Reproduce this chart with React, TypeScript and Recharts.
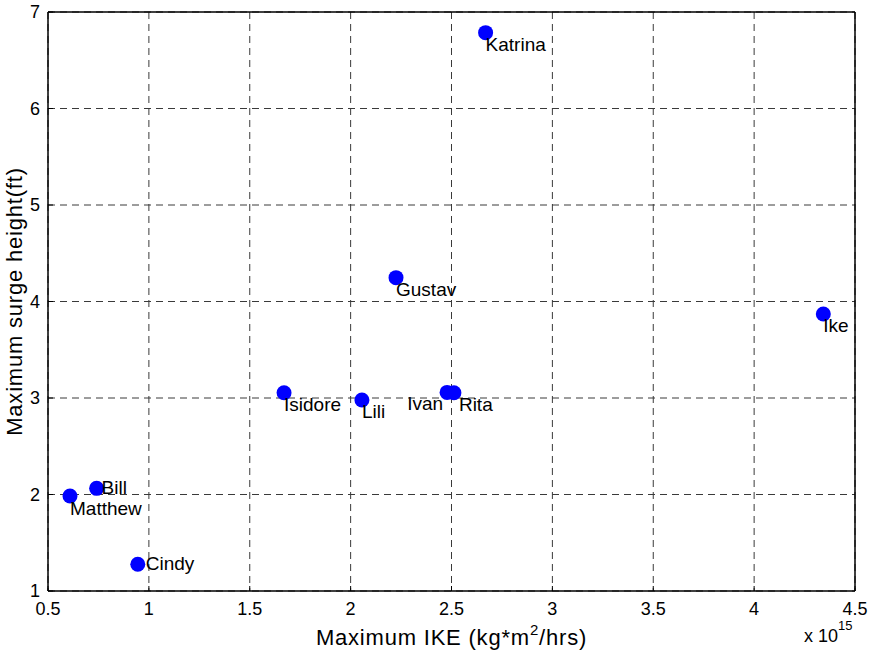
import { ScatterChart, Scatter, XAxis, YAxis, CartesianGrid } from "recharts";

// Hurricanes: peak integrated kinetic energy (in units of 10^15) vs peak surge height
const storms = ["Katrina", "Gustav", "Ike", "Isidore", "Lili", "Ivan", "Rita", "Bill", "Matthew", "Cindy"];
const ikeE15 = [2.669, 2.225, 4.343, 1.67, 2.056, 2.478, 2.512, 0.741, 0.609, 0.945];
const surgeFt = [6.786, 4.247, 3.87, 3.055, 2.98, 3.058, 3.055, 2.064, 1.984, 1.277];

const xTicks = [0.5, 1, 1.5, 2, 2.5, 3, 3.5, 4, 4.5];
const yTicks = [1, 2, 3, 4, 5, 6, 7];

const points = storms.map((name, i) => ({ name, ike: ikeE15[i], surge: surgeFt[i] }));

const FONT = '"Liberation Sans", Arial, Helvetica, sans-serif';
const TICK_IN = 5;

// where each storm's name sits relative to its dot
const labelPlacement: Record<string, { dx: number; dy: number; anchor?: "start" | "end" }> = {
  Bill: { dx: 5, dy: 6 },
  Cindy: { dx: 8, dy: 6 },
  Ivan: { dx: -4, dy: 18, anchor: "end" },
  Rita: { dx: 5, dy: 18 },
  Matthew: { dx: 0, dy: 19 },
};

// eslint-disable-next-line @typescript-eslint/no-explicit-any
const StormDot = (props: any) => {
  const { cx, cy, payload } = props;
  const p = labelPlacement[payload.name] ?? { dx: 0, dy: 18 };
  return (
    <g>
      <circle cx={cx} cy={cy} r={7.5} fill="#0000ff" />
      <text
        x={cx + p.dx}
        y={cy + p.dy}
        textAnchor={p.anchor ?? "start"}
        fontFamily={FONT}
        fontSize={19}
        fill="#000"
      >
        {payload.name}
      </text>
    </g>
  );
};

// eslint-disable-next-line @typescript-eslint/no-explicit-any
const BottomTick = (props: any) => {
  const { x, y, payload } = props;
  const axisY = y - 11;
  return (
    <g>
      <line x1={x} y1={axisY} x2={x} y2={axisY - TICK_IN} stroke="#000" />
      <text x={x} y={y} dy="0.71em" textAnchor="middle" fontFamily={FONT} fontSize={18} fill="#000">
        {payload.value}
      </text>
    </g>
  );
};

// eslint-disable-next-line @typescript-eslint/no-explicit-any
const LeftTick = (props: any) => {
  const { x, y, payload } = props;
  const axisX = x + 8;
  return (
    <g>
      <line x1={axisX} y1={y} x2={axisX + TICK_IN} y2={y} stroke="#000" />
      <text x={x} y={y} dy="0.36em" textAnchor="end" fontFamily={FONT} fontSize={18} fill="#000">
        {payload.value}
      </text>
    </g>
  );
};

// eslint-disable-next-line @typescript-eslint/no-explicit-any
const TopTick = (props: any) => <line x1={props.x} y1={props.y} x2={props.x} y2={props.y + TICK_IN} stroke="#000" />;

// eslint-disable-next-line @typescript-eslint/no-explicit-any
const RightTick = (props: any) => <line x1={props.x} y1={props.y} x2={props.x - TICK_IN} y2={props.y} stroke="#000" />;

// eslint-disable-next-line @typescript-eslint/no-explicit-any
const XTitle = (props: any) => {
  const { x, y, width } = props.viewBox;
  return (
    <g fontFamily={FONT} fill="#000">
      <text x={x + width / 2} y={y + 54} textAnchor="middle" fontSize={22} letterSpacing={0.8}>
        Maximum IKE (kg*m
        <tspan fontSize={15} dy={-10}>2</tspan>
        <tspan dy={10}>/hrs)</tspan>
      </text>
      <text x={x + width - 51} y={y + 51} fontSize={18}>
        x 10
        <tspan fontSize={13} dy={-12}>15</tspan>
      </text>
    </g>
  );
};

// eslint-disable-next-line @typescript-eslint/no-explicit-any
const YTitle = (props: any) => {
  const { x, y, height } = props.viewBox;
  const cx = x + 22;
  const cy = y + height / 2;
  return (
    <text
      x={cx}
      y={cy}
      transform={`rotate(-90 ${cx} ${cy})`}
      textAnchor="middle"
      fontFamily={FONT}
      fontSize={22}
      letterSpacing={0.8}
      fill="#000"
    >
      Maximum surge height(ft)
    </text>
  );
};

export default function App() {
  return (
    <div style={{ position: "absolute", left: 0, top: 0, width: 872, height: 652, background: "#fff" }}>
      <ScatterChart width={872} height={652} margin={{ top: 11, right: 16, bottom: 0, left: 0 }}>
        <CartesianGrid stroke="#3a3a3a" strokeDasharray="7 5" />
        <XAxis
          type="number"
          dataKey="ike"
          domain={[0.5, 4.5]}
          ticks={xTicks}
          height={61}
          tickSize={0}
          tickMargin={11}
          axisLine={{ stroke: "#000", strokeWidth: 1.5 }}
          tickLine={false}
          tick={BottomTick}
          interval={0}
          label={{ content: XTitle }}
        />
        <XAxis
          xAxisId="top"
          orientation="top"
          type="number"
          dataKey="ike"
          domain={[0.5, 4.5]}
          ticks={xTicks}
          height={1}
          tickSize={0}
          tickMargin={0}
          axisLine={{ stroke: "#000", strokeWidth: 1.5 }}
          tickLine={false}
          tick={TopTick}
          interval={0}
        />
        <YAxis
          type="number"
          dataKey="surge"
          domain={[1, 7]}
          ticks={yTicks}
          width={48}
          tickSize={0}
          tickMargin={8}
          axisLine={{ stroke: "#000", strokeWidth: 1.5 }}
          tickLine={false}
          tick={LeftTick}
          interval={0}
          label={{ content: YTitle }}
        />
        <YAxis
          yAxisId="right"
          orientation="right"
          type="number"
          dataKey="surge"
          domain={[1, 7]}
          ticks={yTicks}
          width={1}
          tickSize={0}
          tickMargin={0}
          axisLine={{ stroke: "#000", strokeWidth: 1.5 }}
          tickLine={false}
          tick={RightTick}
          interval={0}
        />
        <Scatter data={points} shape={StormDot} isAnimationActive={false} />
      </ScatterChart>
    </div>
  );
}
